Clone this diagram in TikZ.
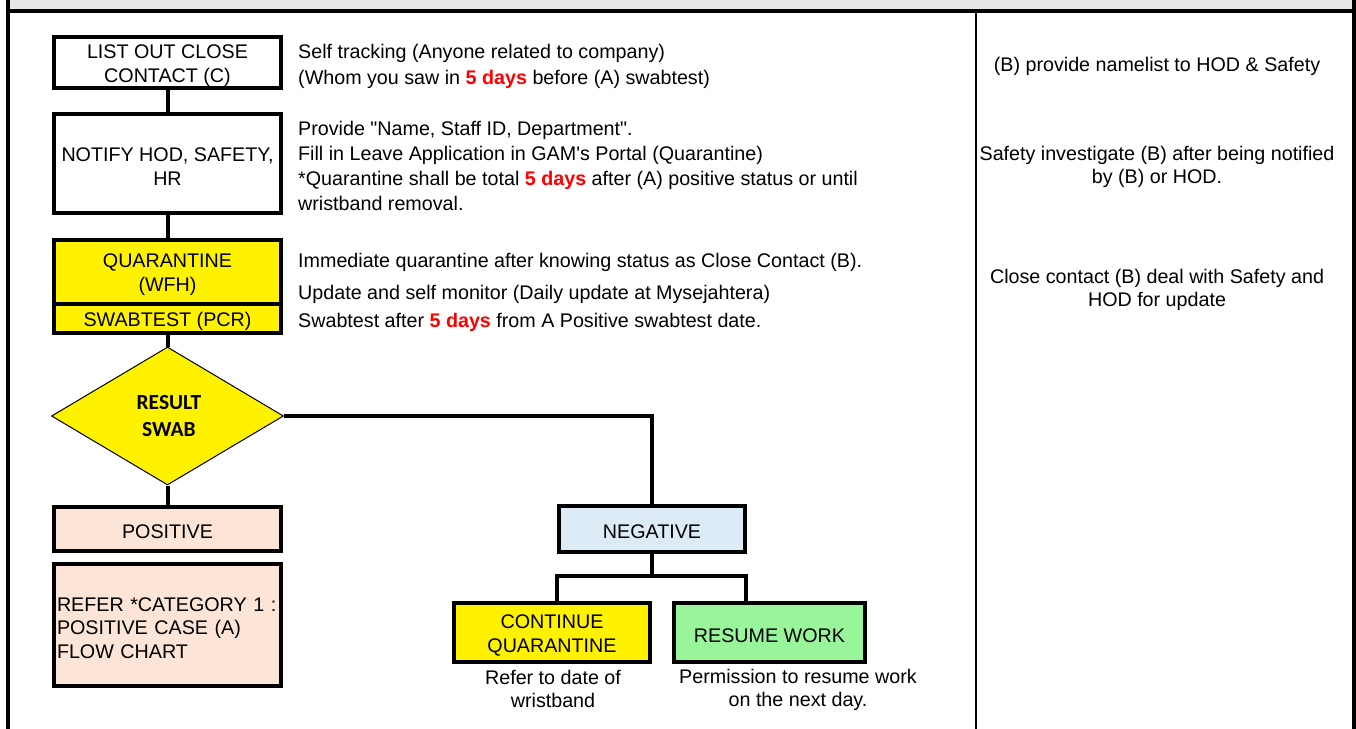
\documentclass[tikz,border=0pt]{standalone}
\usepackage{fontspec}
\setmainfont{Liberation Sans}[Ligatures=TeXOff]
\newfontfamily\carlito{Carlito}
\usetikzlibrary{shapes.geometric}
\definecolor{peach}{RGB}{252,228,214}
\definecolor{lblue}{RGB}{221,235,247}
\definecolor{lgreen}{RGB}{153,245,153}
\definecolor{hdrgray}{RGB}{230,230,230}
\definecolor{fivered}{RGB}{255,0,0}
\newcommand{\fd}{\textcolor{fivered}{\bfseries 5 days}}
\begin{document}
\begin{tikzpicture}[x=1pt,y=-1pt,
  every node/.style={font=\fontsize{19.7}{24}\selectfont},
  boxlabel/.style={draw=none, fill=none, inner sep=0pt, align=center, yshift=-3pt},
  box/.style={draw=black, line width=4pt, inner sep=0pt, rectangle, label={[boxlabel]center:{#1}}},
  conn/.style={line width=4pt},
  side/.style={anchor=base west, inner sep=0pt},
  note/.style={anchor=base, inner sep=0pt},
  undertext/.style={align=center, inner sep=0pt, font=\fontsize{19.7}{23}\selectfont},
]
\useasboundingbox (0,0) rectangle (1356,728);
\clip (0,0) rectangle (1356,728);
% frame
\fill[hdrgray] (8,-5) rectangle (1354,10.7);
\draw[line width=4pt] (8,-5) -- (8,735);
\draw[line width=4pt] (1354,-5) -- (1354,735);
\draw[line width=4pt] (8,10.7) -- (1354,10.7);
\draw[line width=2.3pt] (976,10.7) -- (976,735);

% flow boxes
\node[box={LIST OUT CLOSE\\CONTACT (C)}, minimum width=227pt, minimum height=51pt] (list) at (167.5,62.5) {};
\node[box={NOTIFY HOD, SAFETY,\\HR}, minimum width=227pt, minimum height=99pt] (notify) at (167.5,163.5) {};
\node[box={QUARANTINE\\(WFH)}, fill=yellow, minimum width=227pt, minimum height=64pt] (quar) at (167.5,272) {};
\node[box={SWABTEST (PCR)}, fill=yellow, minimum width=227pt, minimum height=29pt] (swab) at (167.5,318.5) {};
\node[diamond, draw=black, line width=1pt, fill=yellow, minimum width=232pt, minimum height=138pt, inner sep=0pt, align=center, font=\carlito\bfseries\fontsize{21.5}{27.5}\selectfont, text width=80pt, text height=14pt] (res) at (167.5,416) {\hspace*{3pt}RESULT\\\hspace*{3pt}SWAB};
\node[box={POSITIVE}, fill=peach, minimum width=227pt, minimum height=44pt] (pos) at (167.5,529) {};
\node[draw=black, line width=4pt, rectangle, fill=peach, minimum width=227pt, minimum height=122pt, inner sep=0pt,
  label={[boxlabel, align=left, text width=221pt, font=\fontsize{19.7}{23.5}\selectfont]center:{REFER *CATEGORY 1 :\\POSITIVE CASE (A)\\FLOW CHART}}] (refer) at (167.5,625) {};
\node[box={NEGATIVE}, fill=lblue, minimum width=186pt, minimum height=46pt] (neg) at (652,529) {};
\node[box={CONTINUE\\QUARANTINE}, fill=yellow, minimum width=196pt, minimum height=59pt] (cq) at (552,632.5) {};
\node[box={RESUME WORK}, fill=lgreen, minimum width=191pt, minimum height=59pt] (rw) at (769.5,632.5) {};

% connectors
\draw[conn] (list.south) -- (notify.north);
\draw[conn] (notify.south) -- (quar.north);
\draw[conn] (swab.south) -- (res.north);
\draw[conn] (res.south) -- (pos.north);
\draw[conn] (res.east) -| (neg.north);
\coordinate (split) at (652,576);
\draw[conn] (neg.south) -- (split);
\draw[conn] ([xshift=5pt]cq.north) |- (split) -| ([xshift=-23.5pt]rw.north);

% side texts
\node[side] (t1) at (298,58.5) {Self tracking (Anyone related to company)};
\node[side] (t2) at (298,84.5) {(Whom you saw in \fd{} before (A) swabtest)};
\node[side] (t3) at (298,135.5) {Provide "Name, Staff ID, Department".};
\node[side] (t4) at (298,160) {Fill in Leave Application in GAM's Portal (Quarantine)};
\node[side] (t5) at (298,185.5) {*Quarantine shall be total \fd{} after (A) positive status or until};
\node[side] (t6) at (298,210) {wristband removal.};
\node[side] (t7) at (298,267.5) {Immediate quarantine after knowing status as Close Contact (B).};
\node[side] (t8) at (298,299) {Update and self monitor (Daily update at Mysejahtera)};
\node[side] (t9) at (298,327.5) {Swabtest after \fd{} from A Positive swabtest date.};

% right column
\node[note] (r1) at (1157,71) {(B) provide namelist to HOD \& Safety};
\node[note] (r2) at (1157,160) {Safety investigate (B) after being notified};
\node[note] (r3) at (1157,183) {by (B) or HOD.};
\node[note] (r4) at (1157,283) {Close contact (B) deal with Safety and};
\node[note] (r5) at (1157,306) {HOD for update};

% under texts
\node[undertext] (c1) at (553,688.5) {Refer to date of\\wristband};
\node[undertext] (c2) at (798,690) {Permission to resume work\\on the next day.};
\end{tikzpicture}
\end{document}
